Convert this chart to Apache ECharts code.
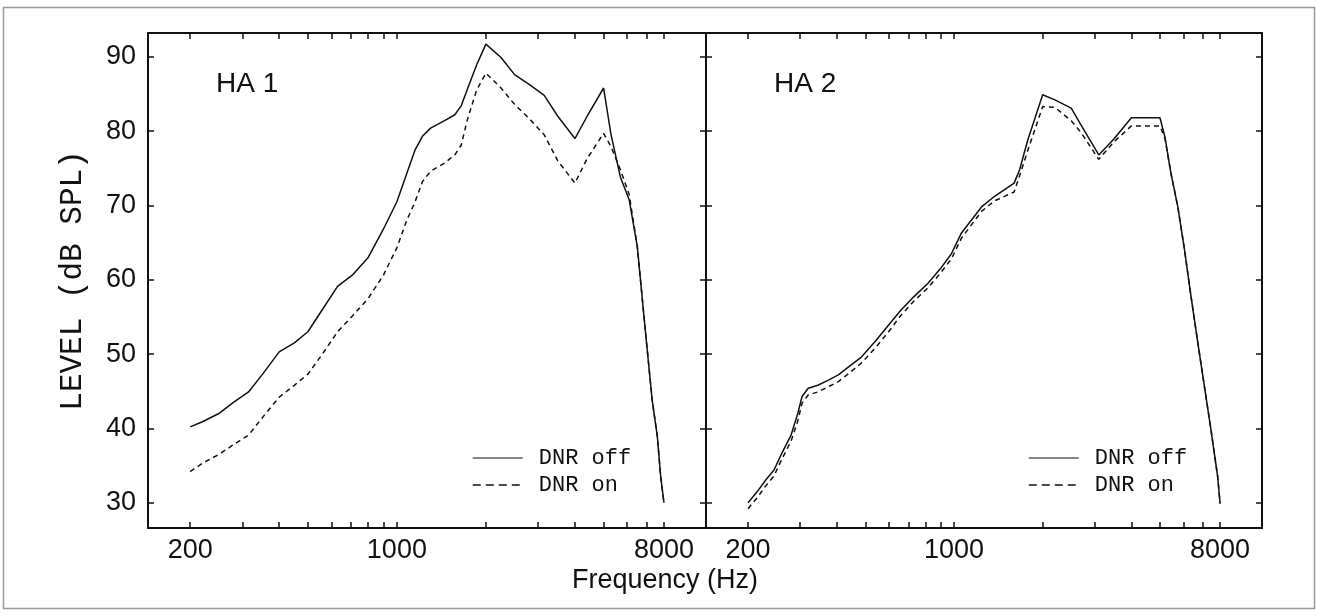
<!DOCTYPE html>
<html><head><meta charset="utf-8">
<script src="https://cdn.jsdelivr.net/npm/echarts@6/dist/echarts.min.js"></script>
<style>html,body{margin:0;padding:0;background:#fff}#c{width:1318px;height:616px}</style>
</head><body><div id="c"></div>
<script>
// ---------- data ----------
const freqHA1 = [200, 220, 250, 280, 315, 350, 400, 450, 500, 560, 630, 710, 800, 900, 1000, 1080, 1150, 1220, 1300, 1450, 1570, 1650, 1730, 1860, 2000, 2250, 2500, 2800, 3150, 3500, 4000, 4400, 5000, 5300, 5700, 6100, 6500, 6900, 7300, 7600, 7800, 8000];
const ha1Off = [40.2, 40.9, 42.0, 43.5, 44.9, 47.2, 50.3, 51.5, 53.0, 56.0, 59.1, 60.7, 63.0, 66.8, 70.5, 74.3, 77.4, 79.3, 80.4, 81.4, 82.2, 83.4, 85.6, 88.9, 91.7, 89.9, 87.6, 86.3, 84.8, 82.0, 79.0, 82.0, 85.8, 79.5, 73.8, 70.8, 64.5, 53.7, 43.8, 38.9, 33.5, 30.0];
const ha1On = [34.2, 35.3, 36.5, 37.8, 39.1, 41.4, 44.2, 45.8, 47.3, 50.0, 53.0, 55.2, 57.5, 60.6, 64.3, 68.0, 70.4, 73.2, 74.6, 75.7, 76.8, 78.1, 81.5, 85.5, 87.8, 85.8, 83.6, 81.7, 79.5, 76.0, 73.0, 76.3, 79.7, 77.9, 74.8, 71.5, 64.5, 53.7, 43.8, 38.9, 33.5, 30.0];

const freqHA2 = [200, 215, 230, 245, 260, 280, 295, 305, 320, 345, 375, 405, 440, 485, 540, 600, 660, 730, 815, 900, 980, 1060, 1240, 1370, 1600, 1670, 1780, 2000, 2200, 2500, 2700, 3100, 3500, 4000, 5000, 5200, 5450, 5750, 6050, 6350, 6700, 7050, 7450, 7850, 8000];
const ha2Off = [30.0, 31.5, 33.1, 34.4, 36.6, 39.1, 42.0, 44.3, 45.4, 45.8, 46.5, 47.2, 48.3, 49.6, 51.7, 53.9, 55.9, 57.7, 59.5, 61.5, 63.5, 66.3, 69.8, 71.2, 73.0, 74.8, 78.8, 84.9, 84.2, 83.1, 80.8, 76.8, 79.0, 81.8, 81.8, 79.2, 74.3, 69.8, 64.2, 58.2, 51.9, 46.1, 39.8, 33.5, 29.9];
const ha2On = [29.2, 30.7, 32.3, 33.6, 35.8, 38.3, 41.0, 43.4, 44.5, 44.9, 45.6, 46.3, 47.4, 48.8, 50.8, 53.0, 55.2, 57.1, 58.9, 60.9, 62.8, 65.6, 69.2, 70.6, 71.8, 74.0, 77.4, 83.3, 83.2, 81.4, 79.8, 76.2, 78.6, 80.7, 80.7, 79.0, 74.3, 69.8, 64.2, 58.2, 51.9, 46.1, 39.8, 33.5, 29.9];

const xTickValues = [200, 300, 400, 500, 600, 700, 800, 900, 1000, 2000, 3000, 4000, 5000, 6000, 7000, 8000];
const xLabelValues = [200, 1000, 8000];
const yTickValues = [30, 40, 50, 60, 70, 80, 90];
const panelTitles = ['HA 1', 'HA 2'];
const seriesNames = ['DNR off', 'DNR on'];
const xTitle = 'Frequency (Hz)';
const yTitle = 'LEVEL (dB SPL)';

// ---------- config ----------
const FONT = '"Liberation Sans", Arial, sans-serif';
const MONO = '"Liberation Mono", "DejaVu Sans Mono", monospace';
const INK = '#111';
const X_MIN = 144, X_MAX = 11100, Y_MIN = 26.6, Y_MAX = 93.2;

function xAxisDef(gridIndex, position, showLabels) {
  return {
    type: 'log', logBase: 10, gridIndex, position, min: X_MIN, max: X_MAX,
    axisLine: { show: true, onZero: false, lineStyle: { color: INK, width: 2 } },
    axisTick: { show: true, inside: true, length: 6, customValues: xTickValues, lineStyle: { color: INK, width: 1.5 } },
    axisLabel: { show: showLabels, customValues: xLabelValues, margin: 9, color: INK, fontFamily: FONT, fontSize: 27,
      formatter: v => String(Math.round(v)) },
    splitLine: { show: false }, minorTick: { show: false }, minorSplitLine: { show: false }
  };
}
function yAxisDef(gridIndex, position, showLabels) {
  return {
    type: 'value', gridIndex, position, min: Y_MIN, max: Y_MAX,
    axisLine: { show: true, onZero: false, lineStyle: { color: INK, width: 2 } },
    axisTick: { show: true, inside: true, length: 6, customValues: yTickValues, lineStyle: { color: INK, width: 1.5 } },
    axisLabel: { show: showLabels, customValues: yTickValues, margin: 12, color: INK, fontFamily: FONT, fontSize: 27 },
    splitLine: { show: false },
    name: showLabels ? yTitle : '', nameLocation: 'middle', nameGap: 60, nameRotate: 90,
    nameTextStyle: { color: INK, fontFamily: MONO, fontSize: 31 }
  };
}
function lineSeries(name, axisIndex, freqs, vals, dashed) {
  return {
    name, type: 'line', xAxisIndex: axisIndex, yAxisIndex: axisIndex, symbol: 'none', silent: true,
    data: freqs.map((f, i) => [f, vals[i]]),
    lineStyle: { color: INK, width: 1.5, type: dashed ? [5, 4] : 'solid' },
    itemStyle: { color: INK }
  };
}

const chart = echarts.init(document.getElementById('c'), null, { renderer: 'canvas' });
const legendLeft = [472, 1028];
chart.setOption({
  animation: false,
  backgroundColor: '#fff',
  grid: [
    { left: 148, top: 33, width: 558, height: 495 },
    { left: 706, top: 33, width: 556, height: 495 }
  ],
  xAxis: [xAxisDef(0, 'bottom', true), xAxisDef(0, 'top', false), xAxisDef(1, 'bottom', true), xAxisDef(1, 'top', false)],
  yAxis: [yAxisDef(0, 'left', true), yAxisDef(0, 'right', false), yAxisDef(1, 'left', false), yAxisDef(1, 'right', false)],
  series: [
    lineSeries(seriesNames[0], 0, freqHA1, ha1Off, false),
    lineSeries(seriesNames[1], 0, freqHA1, ha1On, true),
    lineSeries(seriesNames[0], 2, freqHA2, ha2Off, false),
    lineSeries(seriesNames[1], 2, freqHA2, ha2On, true)
  ],
  legend: legendLeft.map(l => ({
    orient: 'vertical', left: l, top: 447, padding: 0,
    itemWidth: 50, itemHeight: 14, itemGap: 5, selectedMode: false,
    itemStyle: { opacity: 0, color: 'rgba(0,0,0,0)', borderWidth: 0 },
    data: [
      { name: seriesNames[0], lineStyle: { width: 1.2 } },
      { name: seriesNames[1], lineStyle: { type: [8, 5], width: 1.5 } }
    ],
    textStyle: { fontFamily: MONO, fontSize: 22, color: INK, padding: [0, 0, 0, 11] }
  })),
  title: [
    { text: panelTitles[0], left: 216, top: 70, padding: 0, textStyle: { fontFamily: FONT, fontSize: 28, fontWeight: 'normal', color: INK } },
    { text: panelTitles[1], left: 774, top: 70, padding: 0, textStyle: { fontFamily: FONT, fontSize: 28, fontWeight: 'normal', color: INK } },
    { text: xTitle, left: 572, top: 567, padding: 0, textStyle: { fontFamily: FONT, fontSize: 27, fontWeight: 'normal', color: INK } }
  ],
  graphic: [{
    type: 'rect', silent: true, z: -1,
    shape: { x: 3.5, y: 7.5, width: 1311, height: 601 },
    style: { fill: 'none', stroke: '#999', lineWidth: 1.5 }
  }]
});
</script></body></html>
